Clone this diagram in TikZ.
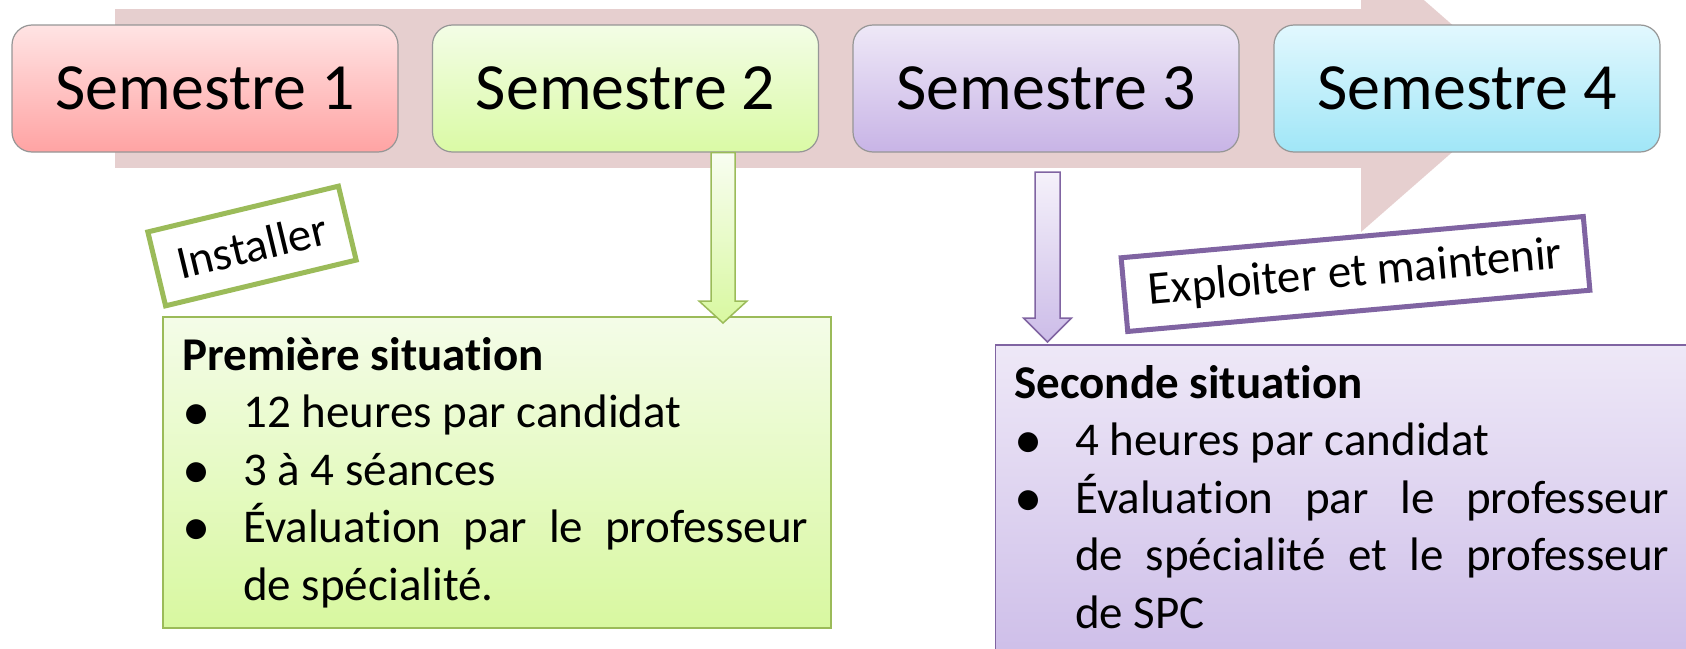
\documentclass[tikz,border=0pt]{standalone}
\usepackage{graphicx}
\usepackage{fontspec}
\setmainfont{Carlito}[Ligatures=NoCommon]
\usetikzlibrary{calc}
\definecolor{bandc}{RGB}{230,207,207}
\definecolor{sonetop}{RGB}{255,228,228}\definecolor{sonebot}{RGB}{255,163,163}
\definecolor{stwotop}{RGB}{243,253,230}\definecolor{stwobot}{RGB}{218,250,165}
\definecolor{sthreetop}{RGB}{238,232,247}\definecolor{sthreebot}{RGB}{200,180,230}
\definecolor{sfourtop}{RGB}{226,248,254}\definecolor{sfourbot}{RGB}{160,230,247}
\definecolor{semborder}{RGB}{150,150,150}
\definecolor{greenb}{RGB}{155,187,89}
\definecolor{purpleb}{RGB}{128,100,162}
\definecolor{sitonetop}{RGB}{244,252,232}\definecolor{sitonebot}{RGB}{216,248,160}
\definecolor{sittwotop}{RGB}{238,232,247}\definecolor{sittwobot}{RGB}{204,188,232}
\newcommand\mybullet{\raisebox{-0.07em}{\scalebox{1.2}{\textbullet}}}
\newcommand\myitem{\par\hangindent=61pt\hangafter=1\noindent\makebox[61pt][l]{\mybullet}}
\begin{document}
\begin{tikzpicture}[x=1pt,y=-1pt,
  sembox/.style={rounded corners=20pt, draw=semborder, line width=1.2pt,
    minimum width=386pt, minimum height=127pt, inner sep=0pt,
    font=\fontsize{66}{78}\selectfont},
  sitbox/.style={line width=1.8pt, inner sep=0pt},
  sittext/.style={anchor=base west, inner sep=0pt, align=justify,
    font=\fontsize{47}{57.5}\selectfont},
  tagbox/.style={fill=white, line width=5pt, inner sep=0pt,
    font=\fontsize{47}{56}\selectfont},
  blockarrow/.style={line width=1.5pt}]
\useasboundingbox (0,0) rectangle (1686,648);
\clip (0,0) rectangle (1686,648);
% background process arrow
\fill[bandc] (115,9) rectangle (1362,168);
\fill[bandc] (1361,-55) -- (1525,88.5) -- (1361,232) -- cycle;
% semester boxes
\node[sembox, top color=sonetop, bottom color=sonebot] (s1) at (205,88.5) {Semestre 1};
\node[sembox, top color=stwotop, bottom color=stwobot] (s2) at (625.5,88.5) {Semestre 2};
\node[sembox, top color=sthreetop, bottom color=sthreebot] (s3) at (1046,88.5) {Semestre 3};
\node[sembox, top color=sfourtop, bottom color=sfourbot] (s4) at (1467,88.5) {Semestre 4};
% situation boxes
\node[sitbox, draw=greenb, top color=sitonetop, bottom color=sitonebot,
  minimum width=668pt, minimum height=311pt, anchor=north west] (sit1) at (162,316) {};
\node[sitbox, draw=purpleb, top color=sittwotop, bottom color=sittwobot,
  minimum width=720pt, minimum height=330pt, anchor=north west] (sit2) at (994.5,344) {};
% block arrows
\coordinate (ga) at (s2.south -| 723,0);
\coordinate (gb) at ([yshift=-7pt]sit1.north -| 723,0);
\draw[blockarrow, draw=greenb, top color=sitonetop!60!white, bottom color=sitonebot]
  ([xshift=-12pt]ga) -- ([xshift=12pt]ga) -- ([xshift=12pt,yshift=22pt]gb)
  -- ([xshift=24pt,yshift=22pt]gb) -- (gb) -- ([xshift=-24pt,yshift=22pt]gb)
  -- ([xshift=-12pt,yshift=22pt]gb) -- cycle;
\coordinate (pa) at (1047.5,172);
\coordinate (pb) at ([yshift=2pt]sit2.north -| 1047.5,0);
\draw[blockarrow, draw=purpleb, top color=sittwotop!60!white, bottom color=sittwobot]
  ([xshift=-12.5pt]pa) -- ([xshift=12.5pt]pa) -- ([xshift=12.5pt,yshift=24pt]pb)
  -- ([xshift=24pt,yshift=24pt]pb) -- (pb) -- ([xshift=-24pt,yshift=24pt]pb)
  -- ([xshift=-12.5pt,yshift=24pt]pb) -- cycle;
% tags
\node[tagbox, draw=greenb, rotate=13.5, minimum width=196pt, minimum height=76pt]
  (inst) at (252,246) {Installer};
\node[tagbox, draw=purpleb, rotate=5.1, minimum width=464pt, minimum height=74pt]
  (expl) at (1355.5,274) {Exploiter et maintenir};
% texts
\node[sittext, text width=626pt] (t1) at (182,370) {%
  {\bfseries Première situation}
  \myitem 12 heures par candidat
  \myitem 3 à 4 séances
  \myitem Évaluation par le professeur\linebreak de spécialité.\par};
\node[sittext, text width=655pt] (t2) at (1014,398) {%
  {\bfseries Seconde situation}
  \myitem 4 heures par candidat
  \myitem Évaluation par le professeur\linebreak de spécialité et le professeur\linebreak de SPC\par};
\end{tikzpicture}
\end{document}
